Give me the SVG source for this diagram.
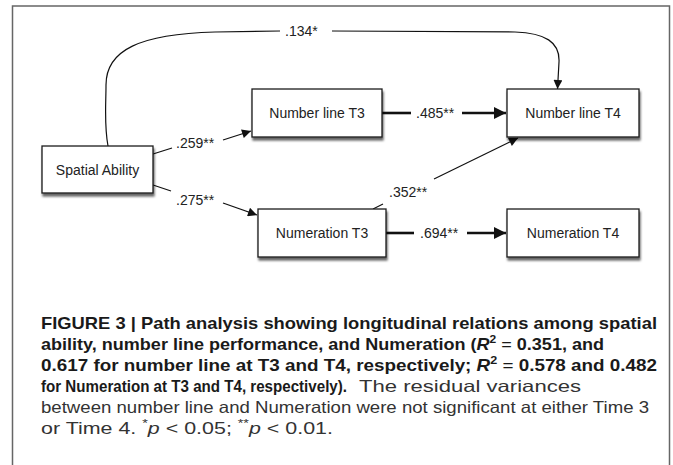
<svg xmlns="http://www.w3.org/2000/svg" width="673" height="465" viewBox="0 0 673 465">
<defs>
<style>
.box{fill:#fff;stroke:#1a1a1a;stroke-width:1.3;filter:url(#sh)}
.nt{font-family:"Liberation Sans",Arial,sans-serif;font-size:14px;fill:#222;text-anchor:middle}
.lb{font-family:"Liberation Sans",Arial,sans-serif;font-size:14px;fill:#222}
.ln{fill:none;stroke:#111;stroke-width:1.2}
.tk{fill:none;stroke:#111;stroke-width:2.6}
.cb{font-family:"Liberation Sans",Arial,sans-serif;font-size:16.5px;font-weight:bold;fill:#1a1a1a}
.cr{font-family:"Liberation Sans",Arial,sans-serif;font-size:16.5px;fill:#333}
</style>
<filter id="sh" x="-10%" y="-10%" width="130%" height="140%">
<feDropShadow dx="1" dy="3" stdDeviation="1.3" flood-color="#000" flood-opacity="0.6"/>
</filter>
<marker id="a" viewBox="0 0 10 10" refX="10" refY="5" markerWidth="10" markerHeight="9" markerUnits="userSpaceOnUse" orient="auto">
<path d="M0,0 L10,5 L0,10 z" fill="#111"/>
</marker>
<marker id="b" viewBox="0 0 10 10" refX="10" refY="5" markerWidth="15" markerHeight="12" markerUnits="userSpaceOnUse" orient="auto">
<path d="M0,0 L10,5 L0,10 z" fill="#111"/>
</marker>
</defs>
<rect x="12.5" y="6" width="657" height="520" fill="none" stroke="#666" stroke-width="1.5"/>

<g id="connectors">
<path class="ln" d="M108,146 C104,125 106,105 106,85 C106,50 140,34 215,32 L280,31"/>
<path class="ln" d="M332,31 L515,32 C545,33 560,42 559,62 L557.5,89" marker-end="url(#a)"/>
<text class="lb" x="285" y="36">.134*</text>
<path class="ln" d="M153,154 L172,148"/>
<path class="ln" d="M223,140 L251,131" marker-end="url(#a)"/>
<text class="lb" x="176" y="148">.259**</text>
<path class="ln" d="M153,185 L171,191"/>
<path class="ln" d="M223,203 L257,215" marker-end="url(#a)"/>
<text class="lb" x="176" y="205">.275**</text>
<path class="tk" d="M382,113 L411,113"/>
<path class="tk" d="M462,113 L506,113" marker-end="url(#b)"/>
<text class="lb" x="416" y="118">.485**</text>
<path class="tk" d="M386,233 L414,233"/>
<path class="tk" d="M467,233 L506,233" marker-end="url(#b)"/>
<text class="lb" x="420" y="238">.694**</text>
<path class="ln" d="M373,209 L383,204"/>
<path class="ln" d="M434,179 L518,138" marker-end="url(#a)"/>
<text class="lb" x="389" y="197">.352**</text>
</g>

<g id="spatial"><rect class="box" x="42" y="146" width="111" height="47"/><text class="nt" x="97.5" y="174.5">Spatial Ability</text></g>
<g id="nl3"><rect class="box" x="252" y="89" width="130" height="48"/><text class="nt" x="317" y="118">Number line T3</text></g>
<g id="nl4"><rect class="box" x="507" y="89" width="132" height="48"/><text class="nt" x="573" y="118">Number line T4</text></g>
<g id="nu3"><rect class="box" x="258" y="209" width="128" height="48"/><text class="nt" x="322" y="238">Numeration T3</text></g>
<g id="nu4"><rect class="box" x="507" y="209" width="132" height="48"/><text class="nt" x="573" y="238">Numeration T4</text></g>

<g id="caption">
<text class="cb" x="41" y="329" textLength="616" lengthAdjust="spacingAndGlyphs">FIGURE 3 | Path analysis showing longitudinal relations among spatial</text>
<text class="cb" x="41" y="350" textLength="563" lengthAdjust="spacingAndGlyphs">ability, number line performance, and Numeration (<tspan font-style="italic">R</tspan><tspan font-size="11" dy="-7">2</tspan><tspan dy="7" font-weight="normal"> = </tspan>0.351, and</text>
<text class="cb" x="41" y="371" textLength="616" lengthAdjust="spacingAndGlyphs">0.617 for number line at T3 and T4, respectively; <tspan font-style="italic">R</tspan><tspan font-size="11" dy="-7">2</tspan><tspan dy="7" font-weight="normal"> = </tspan>0.578 and 0.482</text>
<text class="cb" x="41" y="392" textLength="306" lengthAdjust="spacingAndGlyphs">for Numeration at T3 and T4, respectively).</text>
<text class="cr" x="359" y="392" textLength="222" lengthAdjust="spacingAndGlyphs">The residual variances</text>
<text class="cr" x="41" y="413" textLength="608" lengthAdjust="spacingAndGlyphs">between number line and Numeration were not significant at either Time 3</text>
<text class="cr" x="41" y="434" textLength="292" lengthAdjust="spacingAndGlyphs">or Time 4. <tspan font-size="11" dy="-7">*</tspan><tspan dy="7" font-style="italic">p</tspan> &lt; 0.05; <tspan font-size="11" dy="-7">**</tspan><tspan dy="7" font-style="italic">p</tspan> &lt; 0.01.</text>
</g>
</svg>
